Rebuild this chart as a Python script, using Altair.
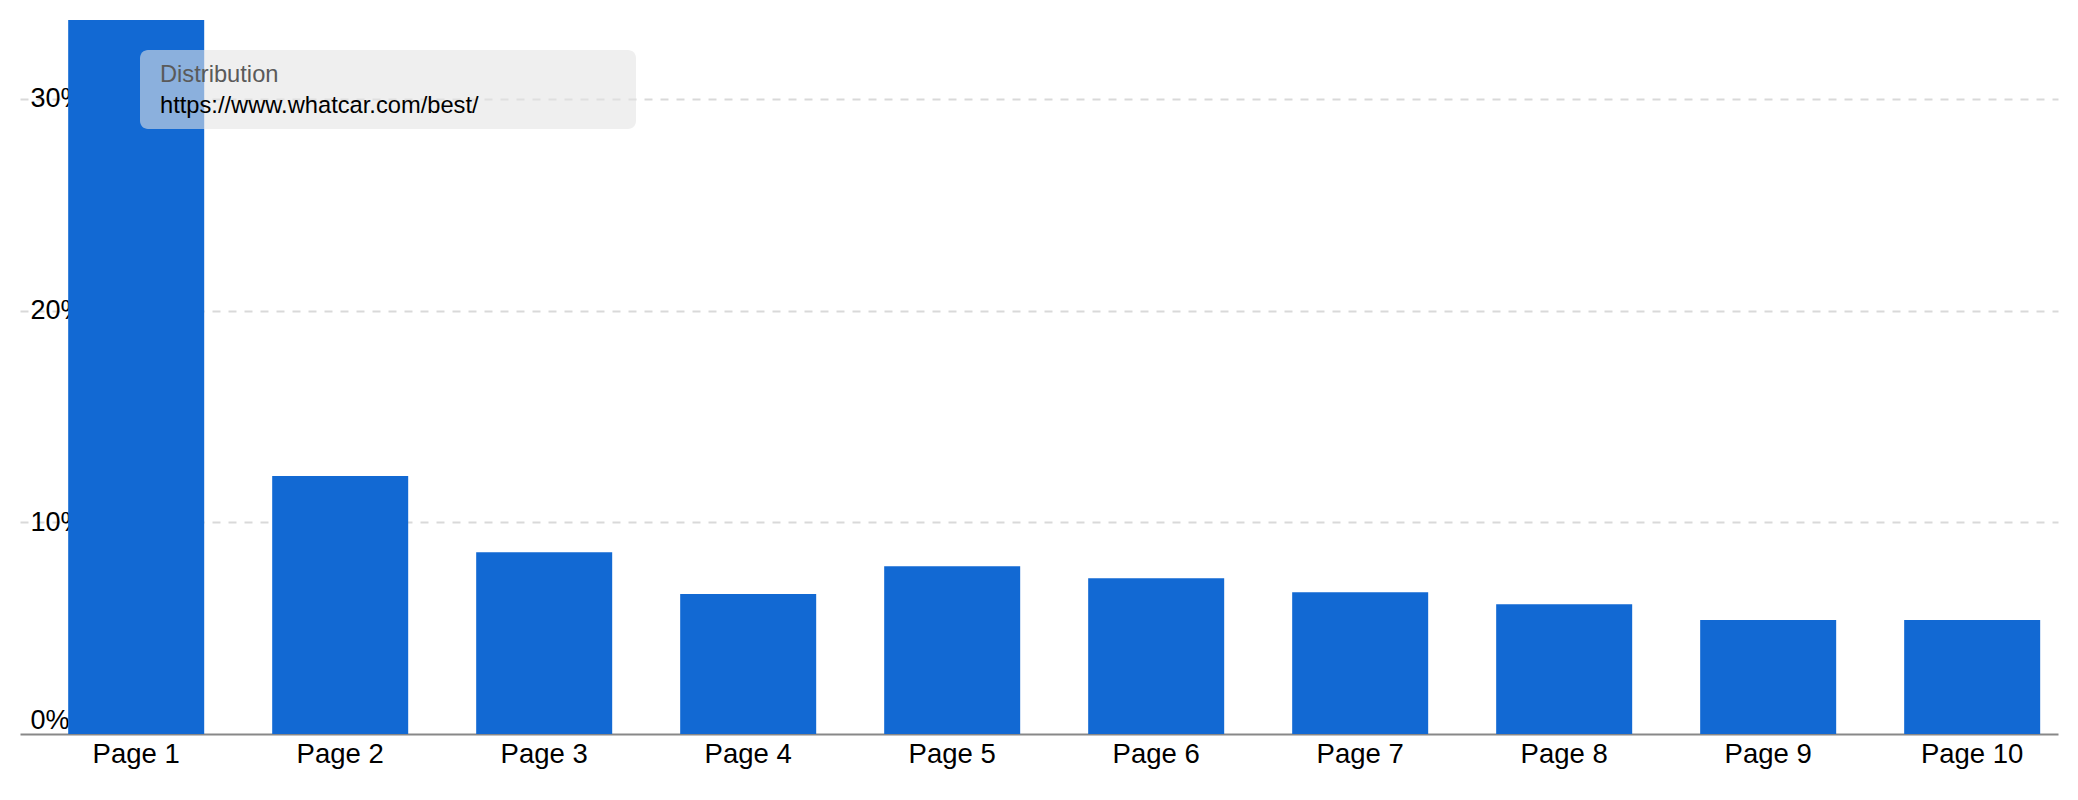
import altair as alt
import pandas as pd

pages = ["Page 1", "Page 2", "Page 3", "Page 4", "Page 5",
         "Page 6", "Page 7", "Page 8", "Page 9", "Page 10"]
shares = [33.73, 12.19, 8.59, 6.61, 7.93, 7.36, 6.70, 6.13, 5.38, 5.38]
y_ticks = [0, 10, 20, 30]
tip_title = "Distribution"
tip_url = "https://www.whatcar.com/best/"

FONT = "Arial, Liberation Sans, sans-serif"
BAR = "#1269D3"

df = pd.DataFrame({"page": pages, "share": shares})

bars = alt.Chart(df).mark_bar(color=BAR).encode(
    x=alt.X(
        "page:N",
        sort=pages,
        title=None,
        scale=alt.Scale(paddingInner=0.3333, paddingOuter=0.1618, align=0.73),
        axis=alt.Axis(
            labelAngle=0,
            labelFont=FONT,
            labelFontSize=27.5,
            labelColor="#000000",
            labelPadding=6,
            ticks=False,
            domain=True,
            domainColor="#888888",
            domainWidth=2,
            grid=False,
        ),
    ),
    y=alt.Y(
        "share:Q",
        title=None,
        scale=alt.Scale(domain=[0, max(shares)], nice=False, zero=True),
        axis=alt.Axis(
            values=y_ticks,
            labelExpr="datum.value + '%'",
            labelFont=FONT,
            labelFontSize=27,
            labelColor="#000000",
            labelAlign="left",
            labelPadding=-10,
            labelBaseline={"condition": {"test": "datum.value === 0", "value": "bottom"}, "value": "middle"},
            ticks=False,
            domain=False,
            grid=True,
            gridColor={"condition": {"test": "datum.value === 0", "value": "transparent"}, "value": "#d9d9d9"},
            gridDash=[8, 8],
            gridWidth=2,
            zindex=0,
        ),
    ),
)

tip_df = pd.DataFrame({"title": [tip_title], "url": [tip_url]})

tip_box = alt.Chart(tip_df).mark_rect(
    color="#e4e4e4", opacity=0.58, cornerRadius=8
).encode(
    x=alt.value(120), x2=alt.value(616), y=alt.value(30), y2=alt.value(109)
)

tip_title_txt = alt.Chart(tip_df).mark_text(
    align="left", baseline="alphabetic", font=FONT, fontSize=23.7, color="#5a5a5a"
).encode(text="title:N", x=alt.value(140), y=alt.value(61.7))

tip_url_txt = alt.Chart(tip_df).mark_text(
    align="left", baseline="alphabetic", font=FONT, fontSize=23.7, color="#000000"
).encode(text="url:N", x=alt.value(140), y=alt.value(93))

chart = alt.layer(bars, tip_box, tip_title_txt, tip_url_txt).properties(
    width=2038,
    height=714,
    autosize=alt.AutoSizeParams(type="none"),
    padding={"left": 12, "top": 12, "right": 12, "bottom": 50},
    background="white",
).configure_view(stroke=None)

chart.save("out.html", embed_options={"renderer": "svg", "actions": False})
